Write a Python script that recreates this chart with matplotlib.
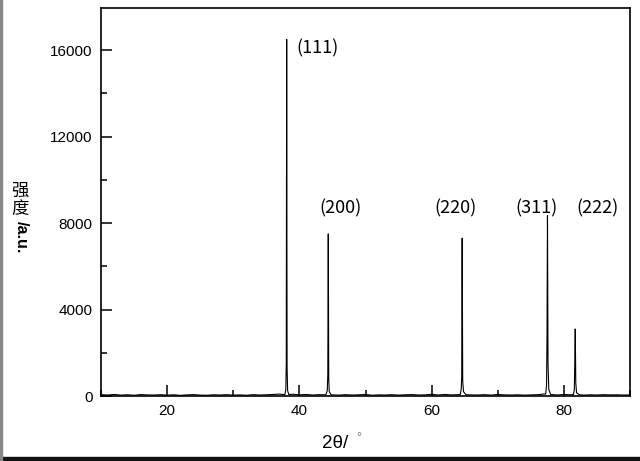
import matplotlib
matplotlib.use('Agg')
from matplotlib import pyplot as plt
from matplotlib.patches import Rectangle
from matplotlib.ticker import MultipleLocator

# XRD pattern (2theta in degrees, intensity in a.u.)
base_theta = [10, 11, 12, 13, 14, 15, 16, 17, 18, 19, 20, 21, 22, 23, 24, 25, 26, 27, 28, 29,
              30, 31, 32, 33, 34, 35, 36, 37]
base_int = [60, 45, 70, 40, 55, 35, 65, 50, 45, 60, 40, 55, 30, 50, 65, 40, 35, 55, 45, 60,
            40, 50, 35, 60, 45, 55, 70, 90]

theta_111 = [37.8, 37.95, 38.02, 38.08, 38.14, 38.22, 38.4]
int_111 = [60, 300, 1500, 16500, 1300, 250, 70]

mid1_theta = [39, 40, 41, 42, 43, 44.0]
mid1_int = [80, 55, 70, 45, 60, 55]

theta_200 = [44.22, 44.3, 44.37, 44.44, 44.52, 44.8]
int_200 = [250, 1000, 7500, 800, 200, 60]

mid2_theta = [45, 46, 47, 48, 49, 50, 51, 52, 53, 54, 55, 56, 57, 58, 59, 60, 61, 62, 63, 64]
mid2_int = [50, 40, 60, 45, 55, 70, 35, 50, 45, 60, 40, 55, 65, 45, 50, 80, 45, 70, 50, 60]

theta_220 = [64.35, 64.48, 64.55, 64.62, 64.7, 64.82, 65.2]
int_220 = [80, 350, 900, 7300, 700, 200, 60]

mid3_theta = [66, 67, 68, 69, 70, 71, 72, 73, 74, 75, 76, 77]
mid3_int = [50, 45, 60, 40, 75, 50, 45, 55, 40, 50, 60, 90]

theta_311 = [77.25, 77.38, 77.45, 77.52, 77.6, 77.72, 78]
int_311 = [90, 500, 2800, 8350, 1500, 300, 70]

mid4_theta = [79, 80, 81]
mid4_int = [45, 70, 55]

theta_222 = [81.45, 81.58, 81.65, 81.72, 81.8, 81.92, 82.3]
int_222 = [70, 300, 1500, 3100, 600, 150, 60]

end_theta = [83, 84, 85, 86, 87, 88, 89, 90]
end_int = [40, 55, 45, 60, 50, 55, 45, 50]

peak_labels = ['(111)', '(200)', '(220)', '(311)', '(222)']
label_x = [42.75, 46.2, 63.6, 75.8, 85.1]
label_y = [16100, 8700, 8700, 8700, 8700]

theta = (base_theta + theta_111 + mid1_theta + theta_200 + mid2_theta + theta_220
         + mid3_theta + theta_311 + mid4_theta + theta_222 + end_theta)
inten = (base_int + int_111 + mid1_int + int_200 + mid2_int + int_220
         + mid3_int + int_311 + mid4_int + int_222 + end_int)

cjk = ['Noto Sans CJK SC', 'DejaVu Sans']

fig = plt.figure(figsize=(6.4, 4.61), dpi=100)
ax = fig.add_axes([101 / 640, 1 - 396 / 461, 529 / 640, 388 / 461])

ax.plot(theta, inten, color='black', linewidth=0.8)

ax.set_xlim(10, 90)
ax.set_ylim(0, 17950)
ax.xaxis.set_major_locator(MultipleLocator(20))
ax.xaxis.set_minor_locator(MultipleLocator(10))
ax.yaxis.set_major_locator(MultipleLocator(4000))
ax.yaxis.set_minor_locator(MultipleLocator(2000))
ax.tick_params(which='both', direction='in', width=1.1, labelsize=11, pad=6)
ax.tick_params(which='major', length=8)
ax.tick_params(which='minor', length=4)
for lab in ax.get_xticklabels() + ax.get_yticklabels():
    lab.set_family('Liberation Sans')
for s in ax.spines.values():
    s.set_linewidth(1.2)

for t, x, y in zip(peak_labels, label_x, label_y):
    ax.text(x, y, t, ha='center', va='center', fontsize=13, family=cjk)

# x label: "2θ/" then a small light degree sign
fig.text(335 / 640, 1 - 443 / 461, '2θ/', ha='center', va='center', fontsize=13.5,
         family='Liberation Sans')
fig.text(359 / 640, 1 - 438 / 461, '°', ha='center', va='center', fontsize=9,
         color='#777777', family='Liberation Sans')

# y label: upright CJK characters stacked, latin part rotated
fig.text(20 / 640, 1 - 191 / 461, '强', ha='center', va='center', fontsize=12.5, family=cjk)
fig.text(20 / 640, 1 - 209 / 461, '度', ha='center', va='center', fontsize=12.5, family=cjk)
fig.text(21 / 640, 1 - 237 / 461, '/a.u.', ha='center', va='center', rotation=270,
         fontsize=11.5, fontweight='bold', family='Liberation Sans')

# frame edges seen in the screenshot
fig.patches.append(Rectangle((0, 0), 1, 4 / 461, transform=fig.transFigure,
                             color='#111111', zorder=0))
fig.patches.append(Rectangle((0, 0), 2 / 640, 1, transform=fig.transFigure,
                             color='#888888', zorder=0))

fig.savefig('out.png', dpi=100)
